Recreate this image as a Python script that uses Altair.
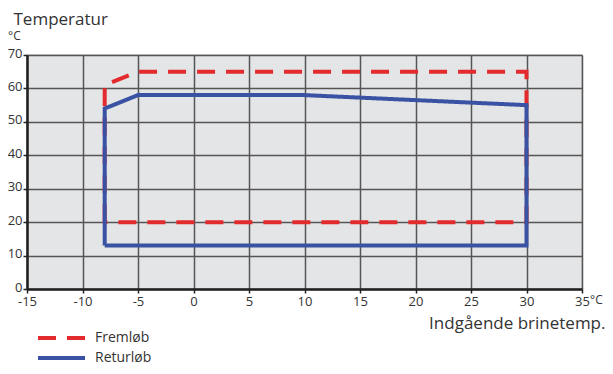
import altair as alt
import pandas as pd

# Data
series_names = ["Fremløb", "Returløb"]
frem_x = [-8, -8, -5, 30, 30, -8]
frem_y = [20, 61, 65, 65, 20, 20]
retur_x = [-8, -8, -5, 10, 30, 30, -8]
retur_y = [13, 54, 58, 58, 55, 13, 13]
x_ticks = [-15, -10, -5, 0, 5, 10, 15, 20, 25, 30, 35]
y_ticks = [0, 10, 20, 30, 40, 50, 60, 70]
series_colors = ["#e32a2c", "#3a52a3"]
series_dash = [[18, 11], [1, 0]]

rows = []
for i, (x, y) in enumerate(zip(frem_x, frem_y)):
    rows.append({"series": series_names[0], "i": i, "x": x, "y": y})
for i, (x, y) in enumerate(zip(retur_x, retur_y)):
    rows.append({"series": series_names[1], "i": i, "x": x, "y": y})
df = pd.DataFrame(rows)

FONT = "Open Sans"
TXT = "#333333"

lines = alt.Chart(df).mark_line(strokeWidth=4, strokeJoin="miter", strokeCap="butt").encode(
    x=alt.X("x:Q", scale=alt.Scale(domain=[-15, 35], nice=False, zero=False),
            axis=alt.Axis(values=x_ticks, title="Indgående brinetemp.", titleX=578, titleY=39,
                          titleAlign="right", titleBaseline="alphabetic", titleFontSize=17,
                          titleFontWeight="normal", titleColor=TXT, titleFont=FONT,
                          labelExpr="toString(datum.value)",
                          labelFontSize=13, labelColor=TXT, labelFont=FONT, labelPadding=2,
                          tickSize=4, tickColor="#222", tickWidth=1.5,
                          domainColor="#222", domainWidth=2.5,
                          grid=True, gridColor="#555", gridWidth=1.5, labelFlush=False)),
    y=alt.Y("y:Q", scale=alt.Scale(domain=[0, 70], nice=False),
            axis=alt.Axis(values=y_ticks, title="Temperatur", titleAngle=0, titleX=-14, titleY=-31,
                          titleAlign="left", titleBaseline="alphabetic", titleFontSize=17,
                          titleFontWeight="normal", titleColor=TXT, titleFont=FONT,
                          labelFontSize=13, labelColor=TXT, labelFont=FONT, labelPadding=1,
                          labelBaseline="alphabetic", labelOffset=2,
                          tickSize=4, tickColor="#222", tickWidth=1.5,
                          domainColor="#222", domainWidth=2.5,
                          grid=True, gridColor="#555", gridWidth=1.5)),
    color=alt.Color("series:N", scale=alt.Scale(domain=series_names, range=series_colors), legend=None),
    strokeDash=alt.StrokeDash("series:N", scale=alt.Scale(domain=series_names, range=series_dash),
                              legend=None),
    order="i:Q",
    detail="series:N",
)

layers = [lines]

# Manual legend
for k, name in enumerate(series_names):
    ly = 283 + 20 * k
    ldf = pd.DataFrame({"t": [name]})
    layers.append(alt.Chart(ldf).mark_rule(strokeWidth=4, color=series_colors[k],
                                           strokeDash=series_dash[k], strokeCap="butt").encode(
        x=alt.value(11), x2=alt.value(58), y=alt.value(ly)))
    layers.append(alt.Chart(ldf).mark_text(align="left", baseline="middle", fontSize=14,
                                           color=TXT, font=FONT).encode(
        x=alt.value(68), y=alt.value(ly), text="t:N"))

unit_y = alt.Chart(pd.DataFrame({"t": ["°C"]})).mark_text(
    align="left", baseline="alphabetic", fontSize=12, color=TXT, font=FONT
).encode(x=alt.value(-19), y=alt.value(-15), text="t:N")

unit_x = alt.Chart(pd.DataFrame({"t": ["°C"]})).mark_text(
    align="left", baseline="alphabetic", fontSize=12, color=TXT, font=FONT
).encode(x=alt.value(563), y=alt.value(249), text="t:N")

layers += [unit_y, unit_x]

chart = alt.layer(*layers).properties(
    width=555, height=234,
    autosize=alt.AutoSizeParams(type="none"),
    padding={"left": 19, "top": 47, "right": 23, "bottom": 77},
).configure_view(fill="#e4e5e7", stroke="#c8c8c8", strokeWidth=1.5)

chart.save("out.html", embed_options={"renderer": "svg", "actions": False})
